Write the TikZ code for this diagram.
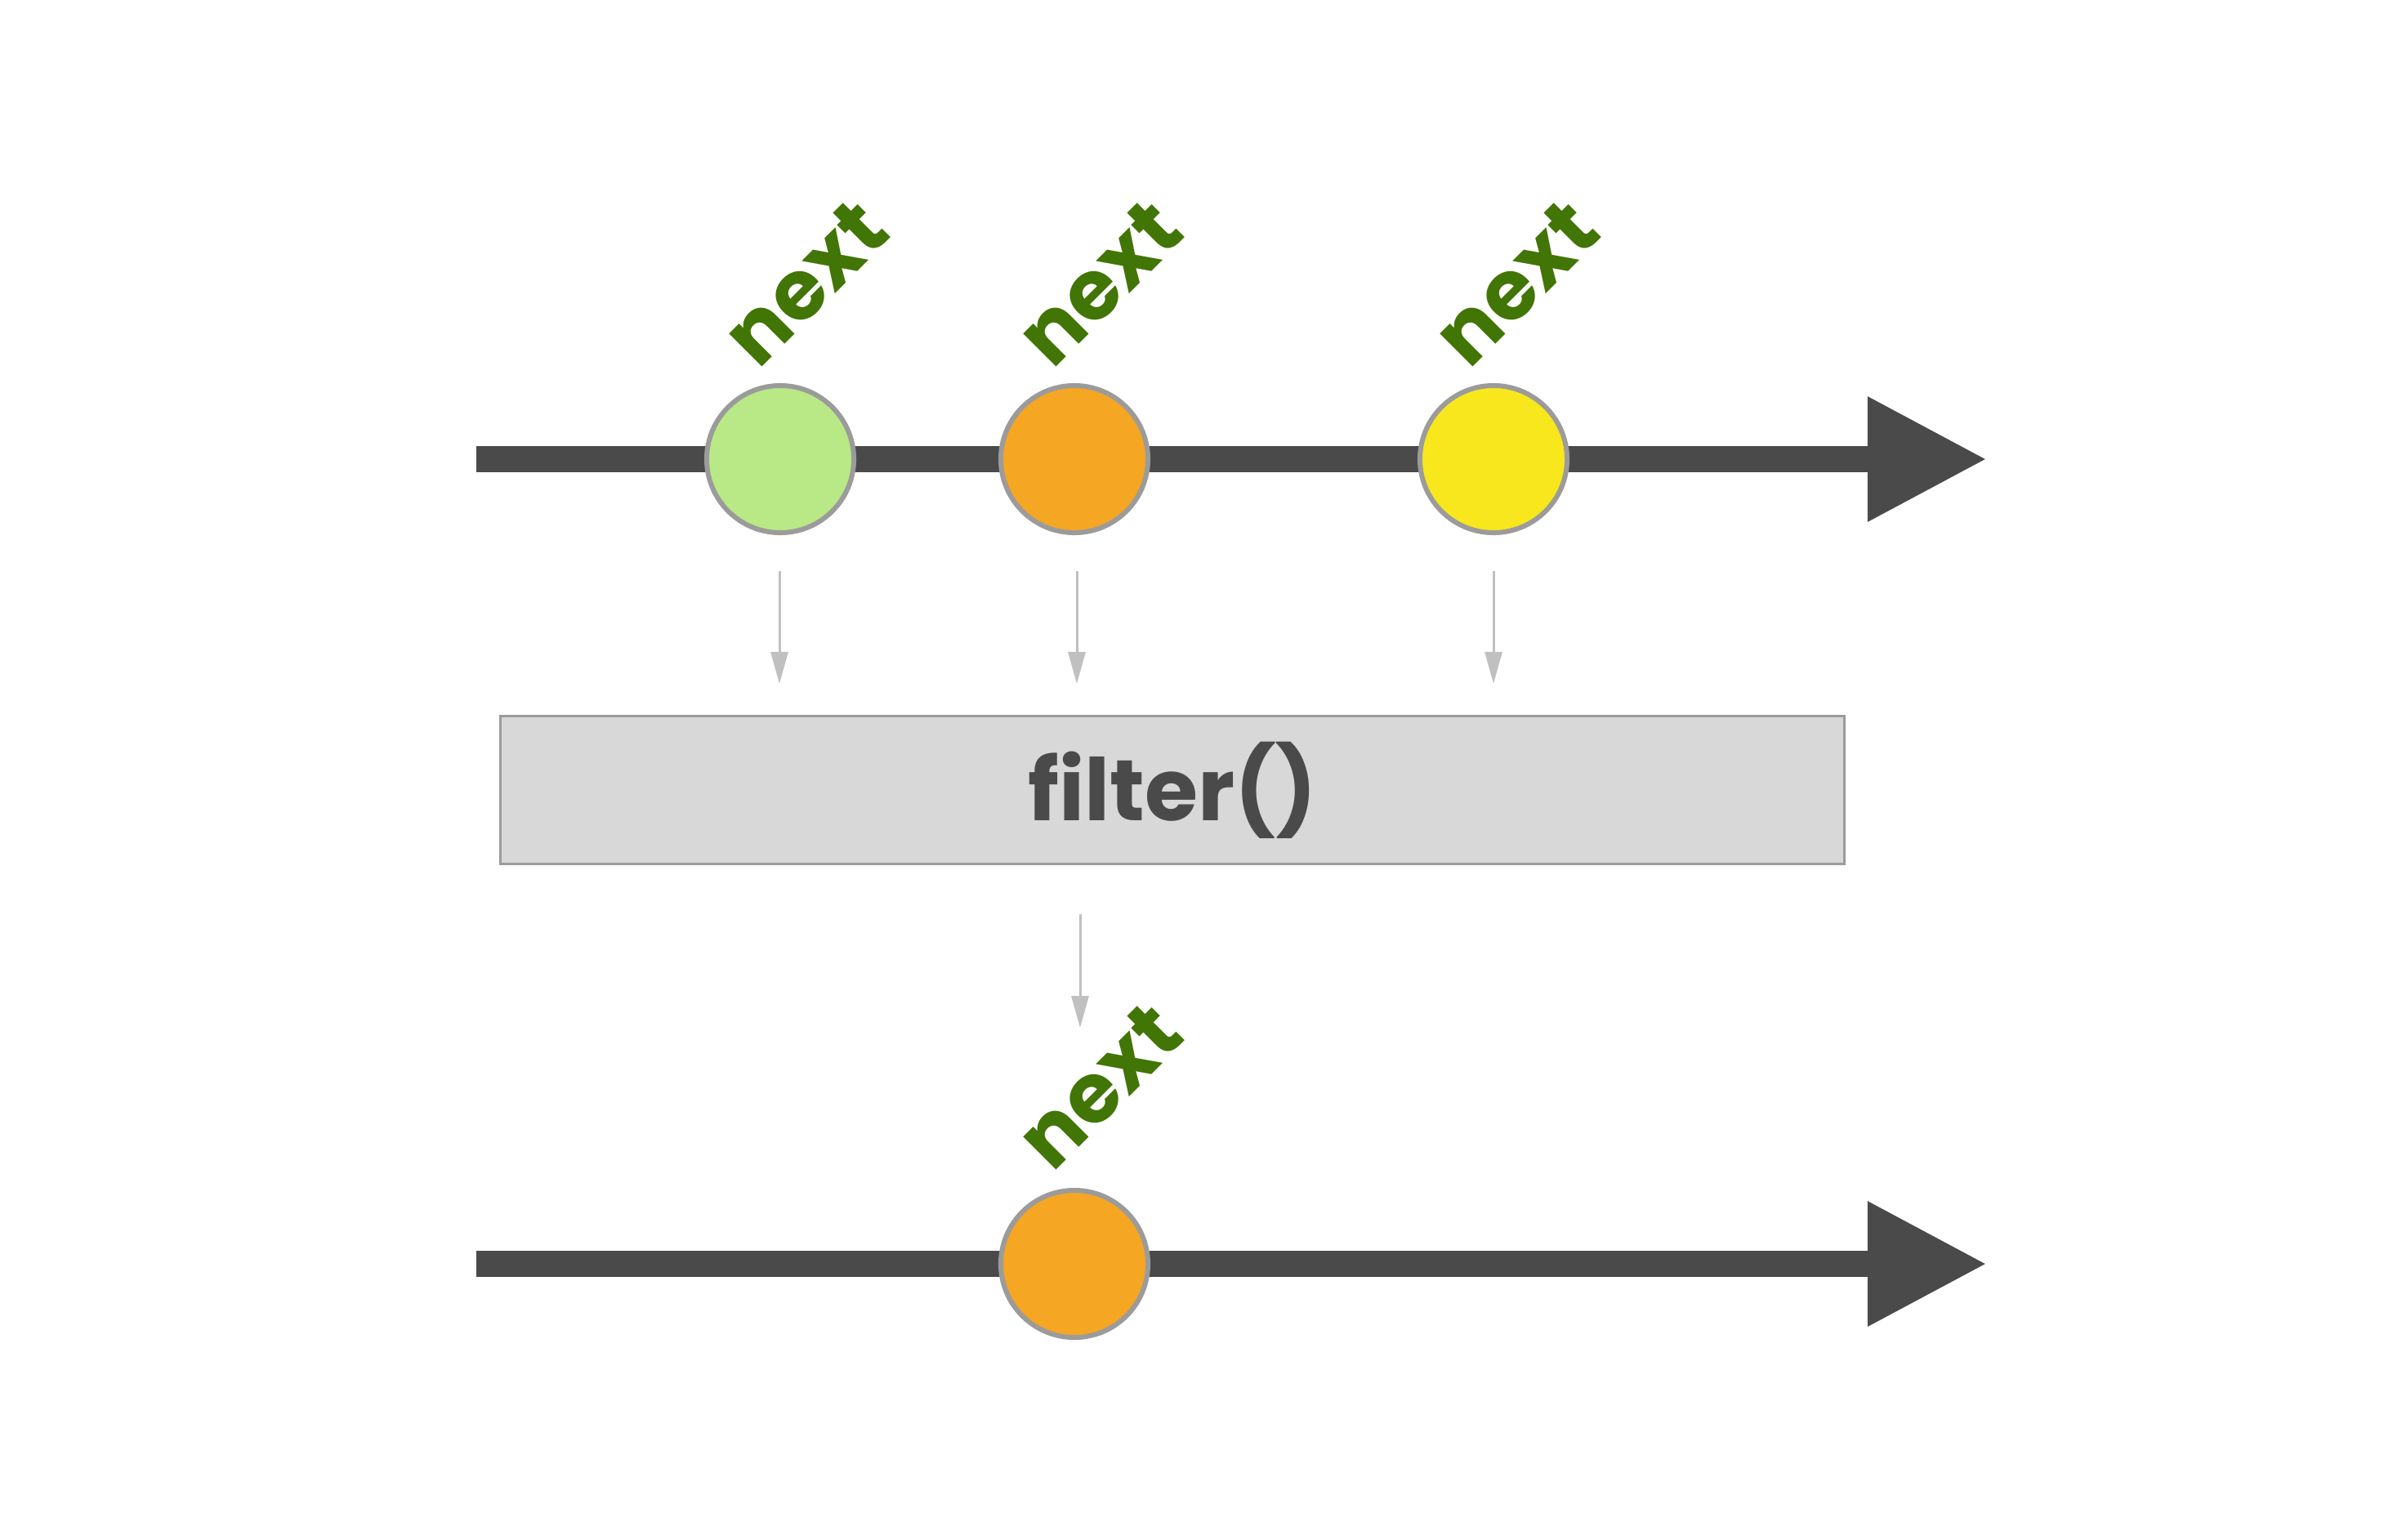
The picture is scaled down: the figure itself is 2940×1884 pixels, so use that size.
\documentclass[tikz,border=0pt]{standalone}
\usepackage{fontspec}
\newfontfamily\popfont{Poppins}
\usetikzlibrary{arrows.meta}
\definecolor{linegray}{HTML}{4A4A4A}
\definecolor{strokegray}{HTML}{9B9B9B}
\definecolor{lightgreen}{HTML}{B8E986}
\definecolor{orangec}{HTML}{F5A623}
\definecolor{yellowc}{HTML}{F8E71C}
\definecolor{labelgreen}{HTML}{417505}
\definecolor{boxfill}{HTML}{D8D8D8}
\definecolor{arrowgray}{HTML}{C0C0C0}
\tikzset{
  timeline/.style={draw=linegray, line width=0.32cm, -{Triangle[width=1.44cm,length=1.46cm]}},
  marble/.style={circle, draw=strokegray, line width=0.06cm, minimum size=1.8cm, inner sep=0pt},
  nextlbl/.style={rotate=45, text=labelgreen, font=\popfont\bfseries\fontsize{29}{29}\selectfont, inner sep=0pt},
  opbox/.style={rectangle, draw=strokegray, fill=boxfill, line width=0.03cm, minimum width=16.44cm, minimum height=1.8cm, inner sep=0pt, text=linegray, font=\popfont\bfseries\fontsize{30}{30}\selectfont},
  flow/.style={draw=arrowgray, line width=0.03cm, -{Triangle[width=0.21cm,length=0.39cm]}}
}
\begin{document}
\begin{tikzpicture}[x=0.01cm, y=-0.01cm]
\useasboundingbox (0,0) rectangle (2940,1884);
% top timeline
\coordinate (s1) at (583,562);
\coordinate (e1) at (2432,562);
\draw[timeline] (s1) -- (e1);
\node[marble, fill=lightgreen] (c1) at (955,562) {};
\node[marble, fill=orangec] (c2) at (1315,562) {};
\node[marble, fill=yellowc] (c3) at (1828,562) {};
\node[nextlbl] (l1) at (986,346) {next};
\node[nextlbl] (l2) at (1346,346) {next};
\node[nextlbl] (l3) at (1856,346) {next};
% operator box
\node[opbox] (box) at (1435,967) {filter()};
% arrows into box
\coordinate (a1s) at (954,699); \coordinate (a1e) at (954,837);
\coordinate (a2s) at (1318,699); \coordinate (a2e) at (1318,837);
\coordinate (a3s) at (1828,699); \coordinate (a3e) at (1828,837);
\draw[flow] (a1s) -- (a1e);
\draw[flow] (a2s) -- (a2e);
\draw[flow] (a3s) -- (a3e);
% arrow out of box
\coordinate (bs) at (1322,1119); \coordinate (be) at (1322,1258);
\draw[flow] (bs) -- (be);
% bottom timeline
\coordinate (s2) at (583,1547);
\coordinate (e2) at (2432,1547);
\draw[timeline] (s2) -- (e2);
\node[marble, fill=orangec] (c4) at (1315,1547) {};
\node[nextlbl] (l4) at (1346,1329) {next};
\end{tikzpicture}
\end{document}
